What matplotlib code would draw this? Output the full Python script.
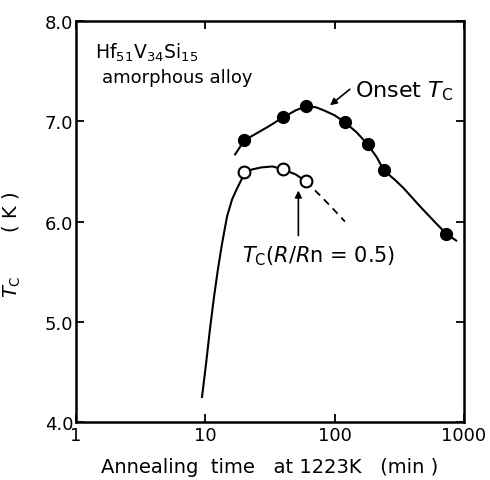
import numpy as np
import matplotlib
matplotlib.use('Agg')
import matplotlib.pyplot as plt

plt.rcParams['font.family'] = 'DejaVu Sans'
plt.rcParams['mathtext.fontset'] = 'dejavusans'

# measured points
t_onset = [20, 40, 60, 120, 180, 240, 720]
tc_onset = [6.81, 7.04, 7.15, 6.99, 6.77, 6.51, 5.88]
t_half = [20, 40, 60]
tc_half = [6.49, 6.52, 6.40]

# guide curves
t_onset_curve = [17, 20, 30, 40, 50, 60, 72, 84, 100, 120, 148, 180, 212, 240,
                 290, 340, 458, 600, 727, 869]
tc_onset_curve = [6.67, 6.81, 6.94, 7.04, 7.11, 7.15, 7.14, 7.105, 7.06, 6.99,
                  6.89, 6.77, 6.64, 6.51, 6.42, 6.335, 6.15, 5.99, 5.88, 5.81]
t_half_curve = [9.43, 10.13, 10.87, 11.68, 12.54, 13.47, 14.72, 16.09, 17.59,
                19.22, 20, 23, 27, 33, 40, 50, 60]
tc_half_curve = [4.25, 4.58, 4.93, 5.25, 5.53, 5.78, 6.05, 6.22, 6.33,
                 6.43, 6.49, 6.52, 6.54, 6.55, 6.52, 6.47, 6.40]
t_half_dash = [60, 80, 100, 120]
tc_half_dash = [6.40, 6.24, 6.11, 6.00]

fig = plt.figure(figsize=(4.9, 4.81), dpi=100)
ax = fig.add_axes([0.155, 0.1206, 0.792, 0.8334])

ax.plot(t_onset_curve, tc_onset_curve, 'k-', lw=1.5)
ax.plot(t_half_curve, tc_half_curve, 'k-', lw=1.5)
ax.plot(t_half_dash, tc_half_dash, 'k--', lw=1.3, dashes=(4, 3))
ax.plot(t_onset, tc_onset, 'ko', ms=8.5)
ax.plot(t_half, tc_half, 'o', mfc='white', mec='k', mew=1.5, ms=8.5)

ax.set_xscale('log')
ax.set_xlim(1, 1000)
ax.set_ylim(4.0, 8.0)
ax.set_xticks([1, 10, 100, 1000])
ax.set_xticklabels(['1', '10', '100', '1000'])
ax.xaxis.set_minor_locator(matplotlib.ticker.NullLocator())
ax.set_yticks([4.0, 5.0, 6.0, 7.0, 8.0])
ax.set_yticklabels(['4.0', '5.0', '6.0', '7.0', '8.0'])
ax.tick_params(direction='in', length=6, width=1.3, labelsize=13,
               top=True, right=True, pad=3)
ax.tick_params(axis='y', pad=2)
for s in ax.spines.values():
    s.set_linewidth(1.8)

ax.set_xlabel('Annealing  time   at 1223K   (min )', fontsize=14, labelpad=9)
ax.set_ylabel(r'$T_{\mathrm{C}}$       ( K )', fontsize=14)
ax.yaxis.set_label_coords(-0.137, 0.444)

ax.text(0.049, 0.9077, r'Hf$_{51}$V$_{34}$Si$_{15}$', transform=ax.transAxes,
        fontsize=13.5, ha='left', va='baseline')
ax.text(0.067, 0.848, 'amorphous alloy', transform=ax.transAxes,
        fontsize=13, ha='left', va='baseline')

ax.text(144, 7.25, r'Onset $T_{\mathrm{C}}$', fontsize=16,
        ha='left', va='baseline')
ax.annotate('', xy=(92, 7.16), xytext=(131, 7.32),
            arrowprops=dict(arrowstyle='-|>', color='k', lw=1.2, shrinkA=0, shrinkB=0))
ax.annotate('', xy=(52.4, 6.31), xytext=(52.4, 5.86),
            arrowprops=dict(arrowstyle='-|>', color='k', lw=1.2, shrinkA=0, shrinkB=0))
ax.text(19.2, 5.606, r'$T_{\mathrm{C}}$($R$/$R$n = 0.5)', fontsize=15,
        ha='left', va='baseline')

fig.savefig('out.png', dpi=100)
